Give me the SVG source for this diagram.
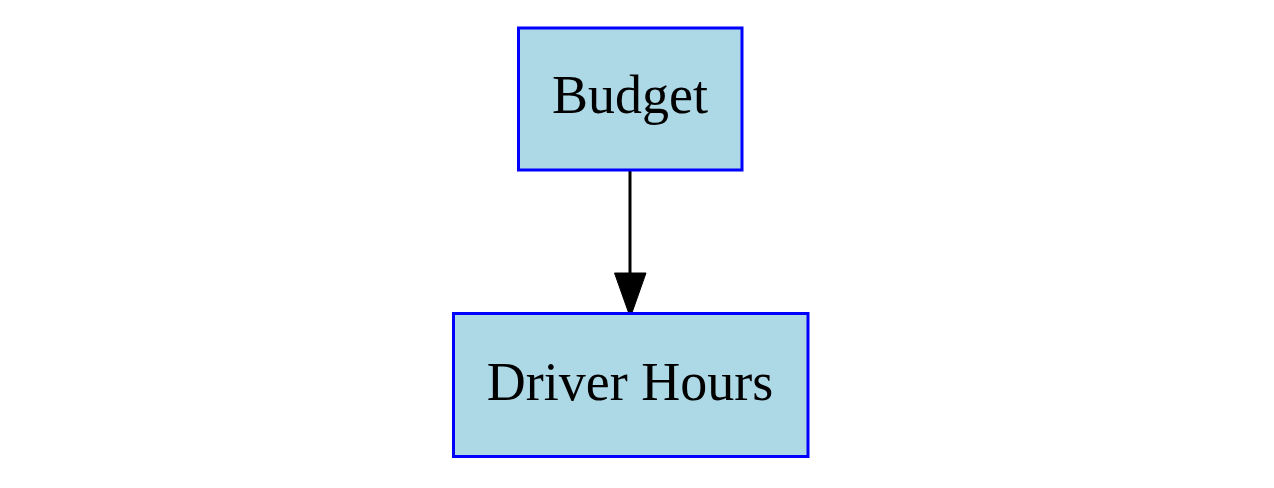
<svg xmlns="http://www.w3.org/2000/svg" width="1274" height="488" viewBox="0 0 1274 488">
<style>
.node rect{fill:#add8e6;stroke:#0000ff;stroke-width:3}
.node text{font-family:"Liberation Serif","Times New Roman",serif;font-size:54px;fill:#000;text-anchor:middle}
.edge{stroke:#000;stroke-width:3;fill:none}
.head{fill:#000;stroke:#000;stroke-width:1}
</style>
<rect width="1274" height="488" fill="#fff"/>
<g id="connectors">
<path class="edge" d="M630,171 L630,273"/>
<path class="head" d="M614.5,273 L646,273 L630.3,317.5 Z"/>
</g>
<g id="budget" class="node">
<rect x="518.5" y="28" width="223.5" height="142"/>
<text x="630" y="113">Budget</text>
</g>
<g id="driver-hours" class="node">
<rect x="453.5" y="313.5" width="354.5" height="143"/>
<text x="630" y="400">Driver Hours</text>
</g>
</svg>
